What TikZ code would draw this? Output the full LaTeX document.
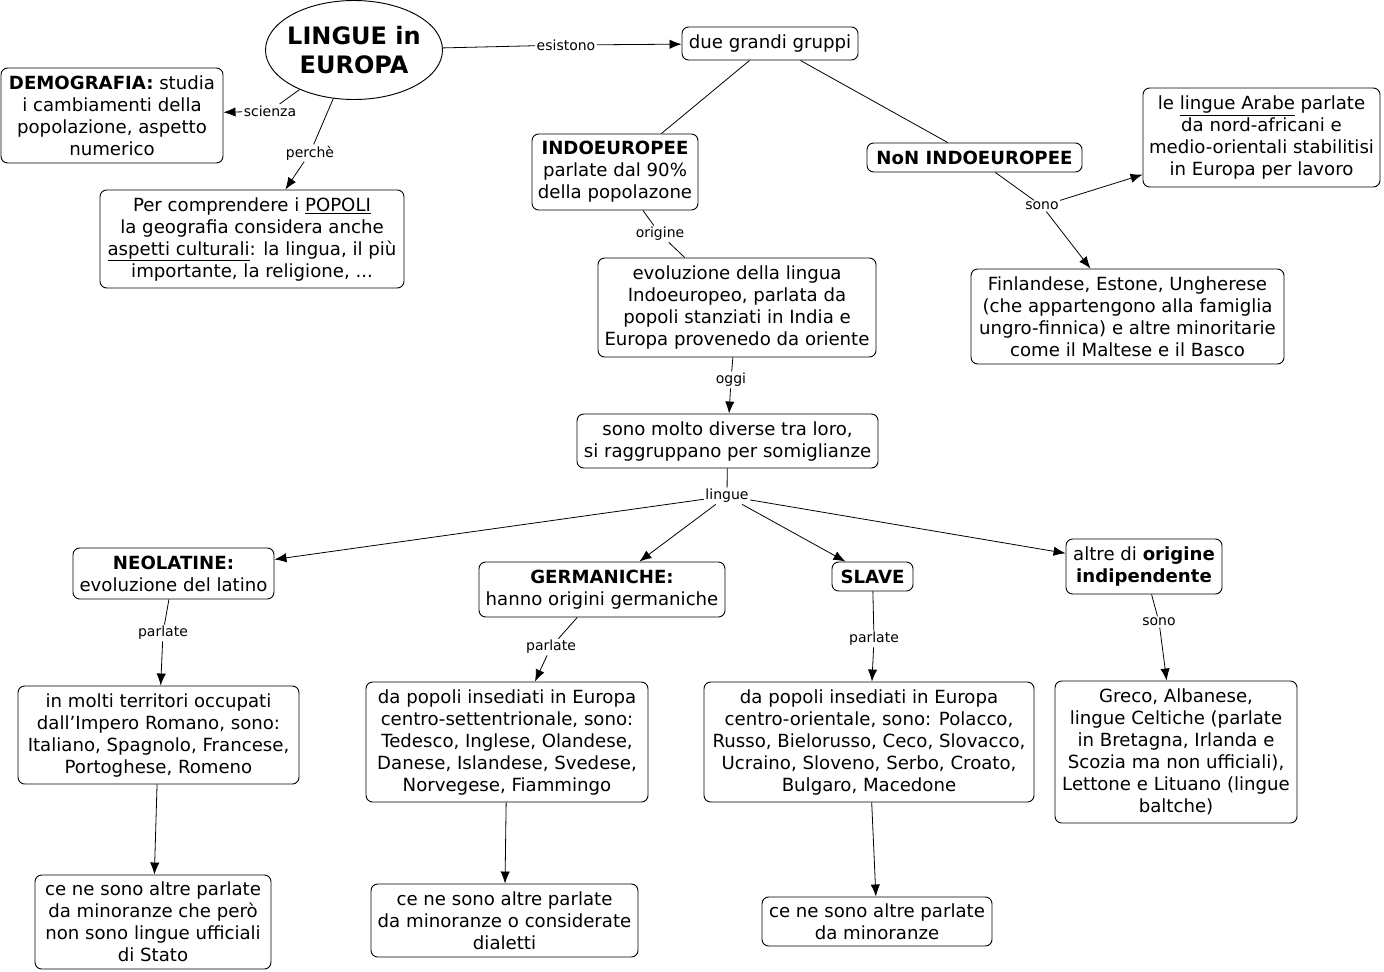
\documentclass[tikz,border=0pt]{standalone}
\usepackage{fontspec}
\setmainfont{DejaVu Sans}
\usetikzlibrary{arrows.meta,shapes.geometric}

\def\scala{0.75pt}
\def\punto#1#2{
	({(#1)*\scala},{-(#2)*\scala})
}
\def\concetto#1#2#3#4#5#6{
	\node[concetto, minimum width={(#4-#2)*\scala}, minimum height={(#5-#3)*\scala}]
		(#1) at \punto{(#2+#4)/2}{(#3+#5)/2} {#6};
}
\def\verbo#1#2#3#4{
	\node[verbo] (#1) at \punto{#2}{#3} {#4};
}
\tikzset{
	concetto/.style={draw, rounded corners=5pt, align=center, inner sep=2pt,
		line width=0.7pt, font=\fontsize{13.6}{16.5}\selectfont},
	verbo/.style={fill=white, inner sep=1pt, font=\fontsize{10.5}{12}\selectfont},
	legame/.style={line width=0.6pt},
}

\begin{document}
\begin{tikzpicture}[>={Latex[length=9pt,width=7pt]}]
	\useasboundingbox \punto{0}{0} rectangle \punto{1384}{971};
	\node[draw, ellipse, line width=0.7pt, inner xsep=-4pt, inner ysep=0pt,
		minimum width={177*\scala}, minimum height={99*\scala},
		align=center, font=\fontsize{18}{22}\selectfont\bfseries] (lingue) at \punto{354}{50}
		{LINGUE in\\ EUROPA};
	\concetto{demografia}{1}{68}{223}{163}{\textbf{DEMOGRAFIA:} studia\\ i cambiamenti della\\ popolazione, aspetto\\ numerico}
	\concetto{popoli}{100}{190}{404}{288}{Per comprendere i \underline{POPOLI}\\ la geografia considera anche\\ \underline{aspetti culturali}: la lingua, il più\\ importante, la religione, ...}
	\concetto{gruppi}{682}{27}{858}{60}{due grandi gruppi}
	\concetto{indo}{532}{134}{698}{210}{\textbf{INDOEUROPEE}\\ parlate dal 90\%\\ della popolazone}
	\concetto{nonindo}{867}{143}{1082}{172}{\textbf{NoN INDOEUROPEE}}
	\concetto{arabe}{1143}{88}{1380}{187}{le \underline{lingue Arabe} parlate\\ da nord-africani e\\ medio-orientali stabilitisi\\ in Europa per lavoro}
	\concetto{ugrofinni}{971}{269}{1284}{364}{Finlandese, Estone, Ungherese\\ (che appartengono alla famiglia\\ ungro-finnica) e altre minoritarie\\ come il Maltese e il Basco}
	\concetto{evoluzione}{598}{258}{876}{357}{evoluzione della lingua\\ Indoeuropeo, parlata da\\ popoli stanziati in India e\\ Europa provenedo da oriente}
	\concetto{diverse}{577}{414}{878}{468}{sono molto diverse tra loro,\\ si raggruppano per somiglianze}
	\concetto{neolatine}{73}{548}{274}{599}{\textbf{NEOLATINE:}\\ evoluzione del latino}
	\concetto{germaniche}{479}{562}{725}{617}{\textbf{GERMANICHE:}\\ hanno origini germaniche}
	\concetto{slave}{832}{562}{913}{591}{\textbf{SLAVE}}
	\concetto{altre}{1066}{539}{1222}{594}{altre di \textbf{origine}\\ \textbf{indipendente}}
	\concetto{romanze}{18}{686}{299}{784}{in molti territori occupati\\ dall\symbol{39}Impero Romano, sono:\\ Italiano, Spagnolo, Francese,\\ Portoghese, Romeno}
	\concetto{nordeuropa}{366}{682}{648}{802}{da popoli insediati in Europa\\ centro-settentrionale, sono:\\ Tedesco, Inglese, Olandese,\\ Danese, Islandese, Svedese,\\ Norvegese, Fiammingo}
	\concetto{esteuropa}{704}{682}{1034}{802}{da popoli insediati in Europa\\ centro-orientale, sono: Polacco,\\ Russo, Bielorusso, Ceco, Slovacco,\\ Ucraino, Sloveno, Serbo, Croato,\\ Bulgaro, Macedone}
	\concetto{greco}{1055}{681}{1297}{823}{Greco, Albanese,\\ lingue Celtiche (parlate\\ in Bretagna, Irlanda e\\ Scozia ma non ufficiali),\\ Lettone e Lituano (lingue\\ baltche)}
	\concetto{minneo}{35}{875}{271}{969}{ce ne sono altre parlate\\ da minoranze che però\\ non sono lingue ufficiali\\ di Stato}
	\concetto{mingerm}{371}{884}{638}{957}{ce ne sono altre parlate\\ da minoranze o considerate\\ dialetti}
	\concetto{minslav}{762}{897}{992}{946}{ce ne sono altre parlate\\ da minoranze}
	\verbo{esistono}{566}{45}{esistono}
	\verbo{scienza}{270}{111}{scienza}
	\verbo{perche}{310}{153}{perchè}
	\verbo{origine}{660}{234}{origine}
	\verbo{oggi}{731}{380}{oggi}
	\verbo{sonoA}{1042}{206}{sono}
	\verbo{lingueB}{727}{496}{lingue}
	\verbo{parlateA}{163}{633}{parlate}
	\verbo{parlateB}{551}{647}{parlate}
	\verbo{parlateC}{874}{639}{parlate}
	\verbo{sonoB}{1159}{622}{sono}
	\draw[legame] (lingue) -- (esistono);
	\draw[legame,->] (esistono) -- (gruppi);
	\draw[legame] (lingue) -- (scienza);
	\draw[legame,->] (scienza) -- (demografia);
	\draw[legame] (lingue) -- (perche);
	\draw[legame,->] (perche) -- (popoli);
	\draw[legame] (gruppi) -- (indo);
	\draw[legame] (gruppi) -- (nonindo);
	\draw[legame] (indo) -- (origine);
	\draw[legame] (origine) -- (evoluzione);
	\draw[legame] (evoluzione) -- (oggi);
	\draw[legame,->] (oggi) -- (diverse);
	\draw[legame] (nonindo) -- (sonoA);
	\draw[legame,->] (sonoA) -- (arabe);
	\draw[legame,->] (sonoA) -- (ugrofinni);
	\draw[legame] (diverse) -- (lingueB);
	\foreach \ramo in {neolatine,germaniche,slave,altre}{
		\draw[legame,->] (lingueB) -- (\ramo);
	}
	\draw[legame] (neolatine) -- (parlateA);
	\draw[legame,->] (parlateA) -- (romanze);
	\draw[legame] (germaniche) -- (parlateB);
	\draw[legame,->] (parlateB) -- (nordeuropa);
	\draw[legame] (slave) -- (parlateC);
	\draw[legame,->] (parlateC) -- (esteuropa);
	\draw[legame] (altre) -- (sonoB);
	\draw[legame,->] (sonoB) -- (greco);
	\draw[legame,->] (romanze) -- (minneo);
	\draw[legame,->] (nordeuropa) -- (mingerm);
	\draw[legame,->] (esteuropa) -- (minslav);
\end{tikzpicture}
\end{document}
